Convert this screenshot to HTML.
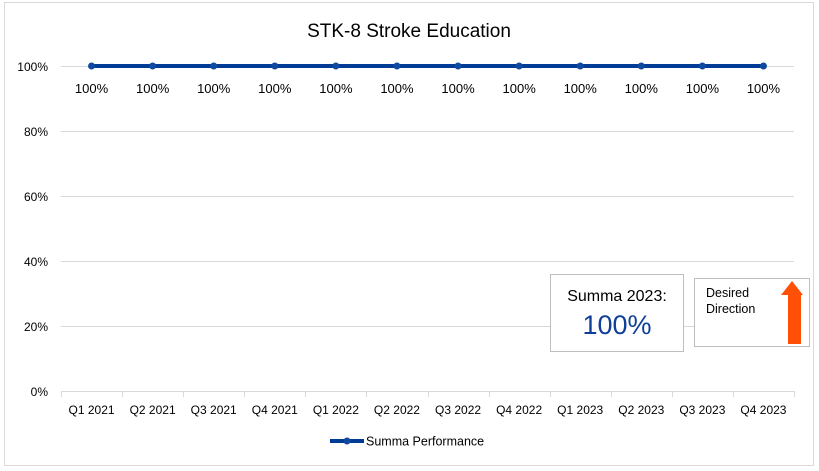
<!DOCTYPE html>
<html><head><meta charset="utf-8"><style>
html,body{margin:0;padding:0;background:#fff;}
svg{display:block;font-family:"Liberation Sans",Calibri,sans-serif;}
</style></head><body>
<svg id="chart" width="819" height="471" viewBox="0 0 819 471">
<rect x="4.5" y="2.5" width="809" height="463" fill="#fff" stroke="#d9d9d9"/>
<text x="409" y="37" text-anchor="middle" font-size="19" fill="#000">STK-8 Stroke Education</text>
<g id="grid"></g><g id="xaxis"></g><g id="series"></g>
<g>
<line x1="330" y1="441" x2="364" y2="441" stroke="#003c96" stroke-width="4"/>
<circle cx="347" cy="441" r="3.5" fill="#0f4aa0"/>
<text x="366" y="445.5" font-size="12.5" fill="#000">Summa Performance</text>
</g>
<g>
<rect x="550.5" y="274.5" width="133" height="77" fill="#fff" stroke="#bfbfbf"/>
<text x="617" y="301" text-anchor="middle" font-size="16" fill="#000">Summa 2023:</text>
<text x="617" y="334" text-anchor="middle" font-size="27" fill="#0f3f99">100%</text>
</g>
<g>
<rect x="694.5" y="278.5" width="115" height="68" fill="#fff" stroke="#bfbfbf"/>
<text x="706" y="297" font-size="12.5" fill="#000"><tspan x="706">Desired</tspan><tspan x="706" dy="16">Direction</tspan></text>
<polygon points="781,295 790,295 790,344 801,344 801,295 803,295 792,281 781,295" fill="none"/>
<polygon points="781,295 788,295 788,344 801,344 801,295 803,295 792,281" fill="#ff5006"/>
</g>
</svg>
<script>
const categories=["Q1 2021","Q2 2021","Q3 2021","Q4 2021","Q1 2022","Q2 2022","Q3 2022","Q4 2022","Q1 2023","Q2 2023","Q3 2023","Q4 2023"];
const performance=[100,100,100,100,100,100,100,100,100,100,100,100];
const yTicks=[0,20,40,60,80,100];
const NS="http://www.w3.org/2000/svg";
const x0=61,x1=794,yTop=66,yBot=391;
const bw=(x1-x0)/categories.length;
function xPos(i){return x0+bw*(i+0.5);}
function yPos(v){return yBot-(v/100)*(yBot-yTop);}
function mk(tag,attrs,parent){const e=document.createElementNS(NS,tag);for(const k in attrs)e.setAttribute(k,attrs[k]);parent.appendChild(e);return e;}
const grid=document.getElementById("grid"),xa=document.getElementById("xaxis"),ser=document.getElementById("series");
yTicks.forEach(t=>{
  const y=Math.round(yPos(t))+0.5;
  const l=mk("line",{x1:x0,x2:x1,y1:y,y2:y,stroke:"#d9d9d9","stroke-width":1},grid);
  
  
  const tx=mk("text",{x:48,y:y+4.5,"text-anchor":"end","font-size":12,fill:"#000"},grid);
  tx.textContent=t+"%";
  
  
});
for(let i=0;i<=categories.length;i++){
  const x=Math.round(x0+bw*i)+0.5;
  const tk=mk("line",{x1:x,x2:x,y1:yBot,y2:yBot+6,stroke:"#d9d9d9"},xa);
  
  
}
categories.forEach((c,i)=>{
  const t=mk("text",{x:xPos(i),y:414,"text-anchor":"middle","font-size":12,fill:"#000"},xa);
  t.textContent=c;
  
  
});
const pts=performance.map((v,i)=>xPos(i)+","+yPos(v)).join(" ");
const pl=mk("polyline",{points:pts,fill:"none",stroke:"#003c96","stroke-width":4},ser);


performance.forEach((v,i)=>{
  const c=mk("circle",{cx:xPos(i),cy:yPos(v),r:3.5,fill:"#0f4aa0"},ser);
  
  
  const t=mk("text",{x:xPos(i),y:yPos(v)+27,"text-anchor":"middle","font-size":13,fill:"#000"},ser);
  t.textContent=v+"%";
  
  
});
</script>
</body></html>
